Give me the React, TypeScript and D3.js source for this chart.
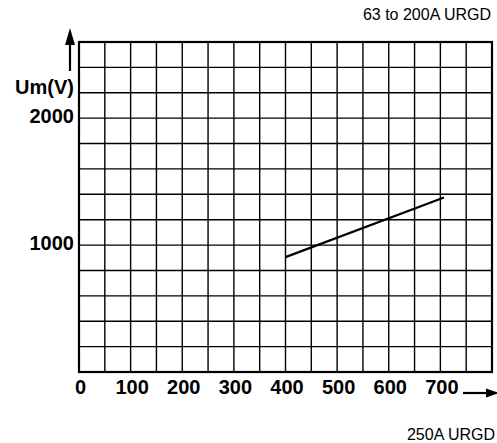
import React from "react";
import * as d3 from "d3";

const xTicks = [0, 100, 200, 300, 400, 500, 600, 700];
const yTicks = [1000, 2000];
const xGrid = d3.range(0, 801, 50);
const yGrid = d3.range(0, 2601, 200);
const lineX = [400, 707];
const lineY = [905, 1375];
const topNote = "63 to 200A URGD";
const bottomNote = "250A URGD";
const yTitle = "Um(V)";

const W = 497;
const H = 443;
const x = d3.scaleLinear().domain([0, 800]).range([79, 492]);
const y = d3.scaleLinear().domain([0, 2600]).range([372, 42]);

export default function App() {
  const pts: [number, number][] = lineX.map((v, i) => [x(v), y(lineY[i])]);
  const path = d3.line()(pts) || "";
  const font = "'Liberation Sans', Arial, Helvetica, sans-serif";
  return (
    <svg
      width={W}
      height={H}
      style={{ position: "absolute", left: 0, top: 0, background: "#fff" }}
      fontFamily={font}
    >
      {xGrid.slice(1, -1).map((v) => (
        <line key={"vx" + v} x1={x(v)} x2={x(v)} y1={y(0)} y2={y(2600)} stroke="#000" strokeWidth={1.4} />
      ))}
      {yGrid.slice(1, -1).map((v) => (
        <line key={"hy" + v} x1={x(0)} x2={x(800)} y1={y(v)} y2={y(v)} stroke="#000" strokeWidth={1.4} />
      ))}
      <rect
        x={x(0)}
        y={y(2600)}
        width={x(800) - x(0)}
        height={y(0) - y(2600)}
        fill="none"
        stroke="#000"
        strokeWidth={2.2}
      />
      <path d={path} fill="none" stroke="#000" strokeWidth={2.2} />
      {xTicks.map((v) => (
        <text key={"xt" + v} x={x(v) + 1.5} y={394} textAnchor="middle" fontSize={20} fontWeight="bold">
          {v}
        </text>
      ))}
      {yTicks.map((v) => (
        <text key={"yt" + v} x={74} y={y(v) + 5} textAnchor="end" fontSize={20} fontWeight="bold">
          {v}
        </text>
      ))}
      <text x={74} y={94} textAnchor="end" fontSize={20} fontWeight="bold">
        {yTitle}
      </text>
      {/* y arrow */}
      <line x1={70} x2={70} y1={71} y2={42} stroke="#000" strokeWidth={2.2} />
      <path d="M70,28 L65,45 L75,45 Z" fill="#000" />
      {/* x arrow */}
      <line x1={463} x2={488} y1={393} y2={393} stroke="#000" strokeWidth={2.2} />
      <path d="M499,393 L486,388.5 L486,397.5 Z" fill="#000" />
      <text x={491} y={20} textAnchor="end" fontSize={16}>
        {topNote}
      </text>
      <text x={495} y={440} textAnchor="end" fontSize={16}>
        {bottomNote}
      </text>
    </svg>
  );
}
